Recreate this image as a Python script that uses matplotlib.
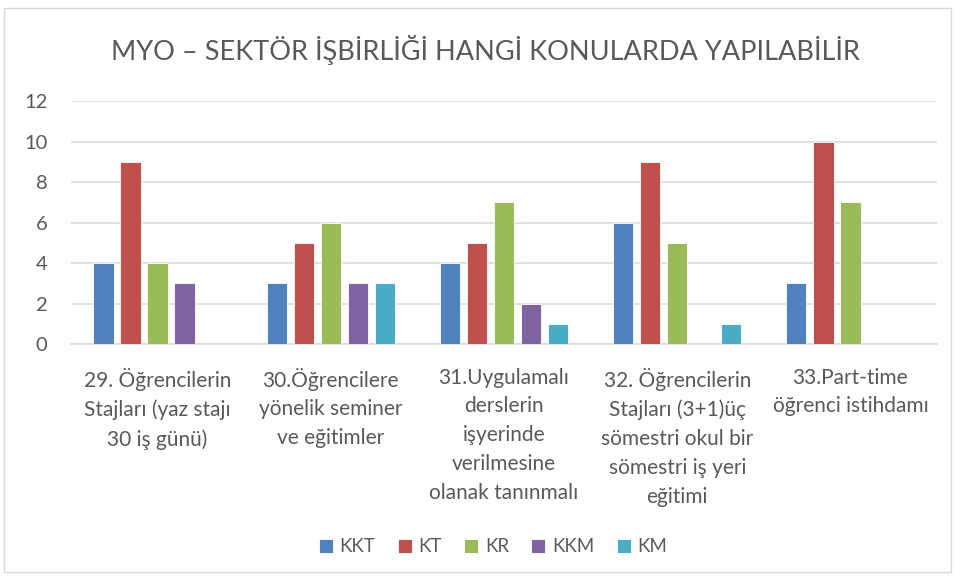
import matplotlib.pyplot as plt
import numpy as np
from matplotlib.patches import Rectangle

# Data
categories = [
    "29. Öğrencilerin\nStajları (yaz stajı\n30 iş günü)",
    "30.Öğrencilere\nyönelik seminer\nve eğitimler",
    "31.Uygulamalı\nderslerin\nişyerinde\nverilmesine\nolanak tanınmalı",
    "32. Öğrencilerin\nStajları (3+1)üç\nsömestri okul bir\nsömestri iş yeri\neğitimi",
    "33.Part-time\nöğrenci istihdamı",
]
series_names = ["KKT", "KT", "KR", "KKM", "KM"]
kkt = [4, 3, 4, 6, 3]
kt = [9, 5, 5, 9, 10]
kr = [4, 6, 7, 5, 7]
kkm = [3, 3, 2, 0, 0]
km = [0, 3, 1, 1, 0]
colors = ["#4F81BD", "#C0504D", "#9BBB59", "#8064A2", "#4BACC6"]

plt.rcParams['font.family'] = ['Lato', 'DejaVu Sans']
text_color = '#595959'

fig = plt.figure(figsize=(9.55, 5.79), dpi=100)
ax = fig.add_axes([71 / 955, 1 - 344 / 579, (937 - 71) / 955, (344 - 101) / 579])

# chart border
fig.patches.append(Rectangle((4 / 955, 1 - 572 / 579), 947 / 955, 564 / 579,
                             transform=fig.transFigure, fill=False,
                             edgecolor='#d9d9d9', linewidth=1))

x = np.arange(len(categories))
step = 0.156
width = 0.117
all_series = [kkt, kt, kr, kkm, km]
for i, (name, vals) in enumerate(zip(series_names, all_series)):
    ax.bar(x + (i - 2) * step, vals, width, color=colors[i], label=name,
           edgecolor='white', linewidth=0.6, zorder=3)

ax.set_xlim(-0.5, len(categories) - 0.5)
ax.set_ylim(0, 12)
ax.set_yticks(range(0, 13, 2))
ax.yaxis.grid(True, color='#d9d9d9', linewidth=1.1, zorder=0)
ax.set_axisbelow(True)
for s in ['top', 'right', 'left']:
    ax.spines[s].set_visible(False)
ax.spines['bottom'].set_color('#d9d9d9')
ax.spines['bottom'].set_linewidth(1.1)

ax.set_xticks(x)
ax.set_xticklabels(categories, fontsize=15, color=text_color, linespacing=1.55)
ax.tick_params(axis='x', length=0, pad=17)
ax.tick_params(axis='y', length=0, pad=17, labelsize=14.5, labelcolor=text_color)

fig.text(485 / 955, 1 - 50 / 579, "MYO – SEKTÖR İŞBİRLİĞİ HANGİ KONULARDA YAPILABİLİR",
         ha='center', va='center', fontsize=19.5, color=text_color)

fig.legend(loc='center', bbox_to_anchor=(493 / 955, 1 - 547 / 579), ncol=5, frameon=False,
           fontsize=13.5, labelcolor=text_color, handlelength=0.75, handleheight=0.75,
           handletextpad=0.35, columnspacing=1.2)

fig.savefig('out.png', dpi=100)
